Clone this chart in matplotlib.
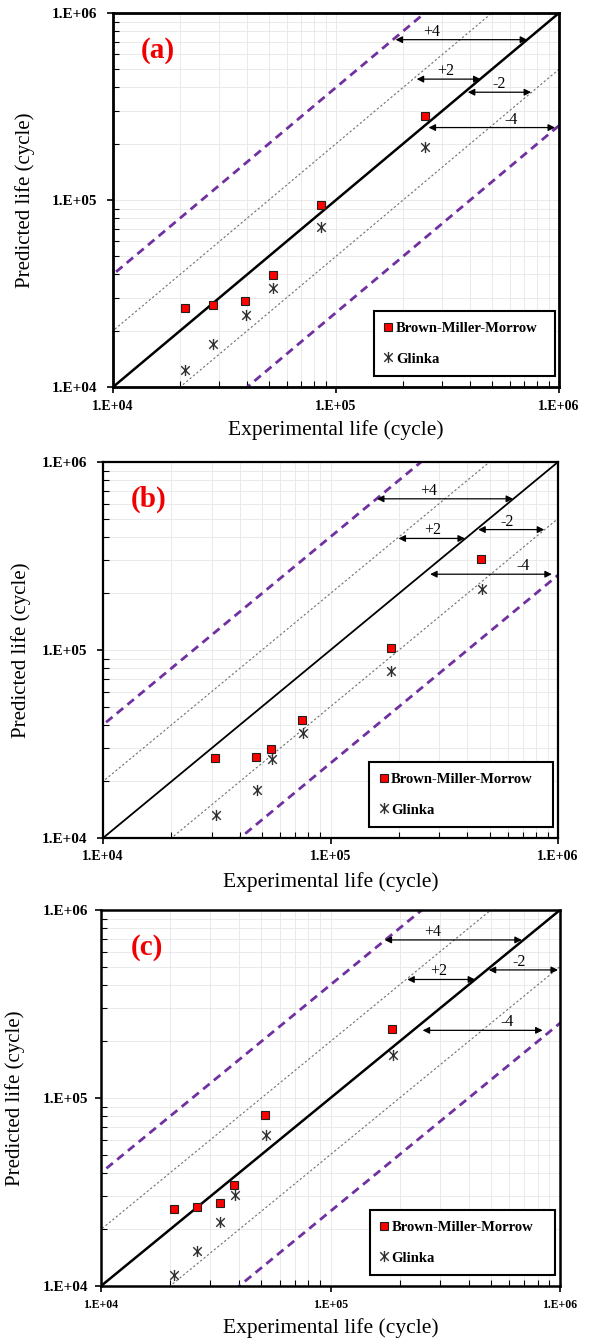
import numpy as np
import matplotlib
matplotlib.use('Agg')
from matplotlib import pyplot as plt
from matplotlib.path import Path
from matplotlib.ticker import FixedLocator, LogLocator, NullFormatter, FuncFormatter

plt.rcParams['font.family'] = ['Liberation Serif', 'DejaVu Serif']

# ---- data (cycles) ----
# panel (a)
a_exp_bmm = [2.10e4, 2.80e4, 3.92e4, 5.20e4, 8.53e4, 2.50e5]
a_pred_bmm = [2.64e4, 2.73e4, 2.90e4, 3.97e4, 9.46e4, 2.81e5]
a_exp_gl = [2.11e4, 2.81e4, 3.95e4, 5.22e4, 8.56e4, 2.51e5]
a_pred_gl = [1.24e4, 1.69e4, 2.44e4, 3.40e4, 7.15e4, 1.91e5]
# panel (b)
b_exp_bmm = [3.10e4, 4.71e4, 5.50e4, 7.51e4, 1.85e5, 4.61e5]
b_pred_bmm = [2.65e4, 2.70e4, 2.98e4, 4.25e4, 1.02e5, 3.06e5]
b_exp_gl = [3.13e4, 4.75e4, 5.52e4, 7.54e4, 1.85e5, 4.63e5]
b_pred_gl = [1.32e4, 1.80e4, 2.63e4, 3.63e4, 7.74e4, 2.10e5]
# panel (c)
c_exp_bmm = [2.09e4, 2.61e4, 3.30e4, 3.79e4, 5.19e4, 1.85e5]
c_pred_bmm = [2.58e4, 2.64e4, 2.77e4, 3.43e4, 8.11e4, 2.34e5]
c_exp_gl = [2.09e4, 2.61e4, 3.31e4, 3.84e4, 5.21e4, 1.87e5]
c_pred_gl = [1.14e4, 1.53e4, 2.19e4, 3.05e4, 6.38e4, 1.70e5]

# scatter-band arrows: (label, y, x_start, x_end, label_x)
a_arrows = [('+4', 7.2e5, 1.85e5, 7.2e5, 2.68e5),
            ('+2', 4.43e5, 2.3e5, 4.45e5, 3.1e5),
            ('-2', 3.77e5, 3.9e5, 7.5e5, 5.4e5),
            ('-4', 2.44e5, 2.6e5, 9.6e5, 6.1e5)]
b_arrows = [('+4', 6.37e5, 1.6e5, 6.35e5, 2.69e5),
            ('+2', 3.92e5, 1.99e5, 3.9e5, 2.8e5),
            ('-2', 4.37e5, 4.46e5, 8.7e5, 6.0e5),
            ('-4', 2.53e5, 2.74e5, 9.4e5, 7.0e5)]
c_arrows = [('+4', 6.93e5, 1.72e5, 6.82e5, 2.8e5),
            ('+2', 4.27e5, 2.16e5, 4.27e5, 2.95e5),
            ('-2', 4.8e5, 4.89e5, 9.8e5, 6.6e5),
            ('-4', 2.29e5, 2.52e5, 8.4e5, 5.9e5)]

panels = [
    ('(a)', a_exp_bmm, a_pred_bmm, a_exp_gl, a_pred_gl, a_arrows),
    ('(b)', b_exp_bmm, b_pred_bmm, b_exp_gl, b_pred_gl, b_arrows),
    ('(c)', c_exp_bmm, c_pred_bmm, c_exp_gl, c_pred_gl, c_arrows),
]

# axes boxes in pixels: left, right, top, bottom
W, H = 597, 1342
boxes = [(113, 559, 13, 387), (103, 558, 462, 838), (101, 560, 910, 1286)]
ylab_x = [-0.175, -0.158, -0.166]
xlab_y = [-0.088, -0.09, -0.085]
xtick_size = [10, 10, 8.5]
ytick_pad = [7, 7, 5]
spine_w = [2.0, 1.6, 1.8]
diag_w = [1.8, 1.3, 1.8]

# Excel style asterisk marker: an x with a vertical bar
star = Path([(-1, -1), (1, 1), (-1, 1), (1, -1), (0, -1.3), (0, 1.3)],
            [Path.MOVETO, Path.LINETO, Path.MOVETO, Path.LINETO, Path.MOVETO, Path.LINETO])

purple = '#7030A0'
fig = plt.figure(figsize=(W / 100, H / 100), dpi=100)

for i, (tag, xb, yb, xg, yg, arrows) in enumerate(panels):
    l, r, t, b = boxes[i]
    ax = fig.add_axes([l / W, 1 - b / H, (r - l) / W, (b - t) / H])
    ax.set_xscale('log')
    ax.set_yscale('log')
    ax.set_xlim(1e4, 1e6)
    ax.set_ylim(1e4, 1e6)

    ref = np.array([1e3, 1e7])
    ax.plot(ref, ref, color='black', lw=diag_w[i], zorder=3)
    ax.plot(ref, 2 * ref, color='#707070', lw=0.8, ls=(0, (2, 2)), zorder=2)
    ax.plot(ref, ref / 2, color='#707070', lw=0.8, ls=(0, (2, 2)), zorder=2)
    ax.plot(ref, 4 * ref, color=purple, lw=2.0, ls=(0, (3, 2)), zorder=2)
    ax.plot(ref, ref / 4, color=purple, lw=2.0, ls=(0, (3, 2)), zorder=2)

    ax.plot(xb, yb, ls='none', marker='s', ms=5.5, mfc='#FF0000', mec='#202020',
            mew=0.8, zorder=5, label='Brown-Miller-Morrow')
    ax.plot(xg, yg, ls='none', marker=star, ms=8, mfc='none', mec='#303030',
            mew=1.0, zorder=5, label='Glinka')

    for lab, y, x0, x1, lx in arrows:
        ax.annotate('', xy=(x1, y), xytext=(x0, y),
                    arrowprops=dict(arrowstyle='<|-|>', color='black', lw=0.9,
                                    mutation_scale=10, shrinkA=0, shrinkB=0), zorder=4)
        ax.text(lx, y, lab, ha='center', va='bottom', fontsize=11.5, zorder=4)

    ax.text(0.1, 0.9, tag, transform=ax.transAxes, ha='center', va='center',
            color='#F00000', fontsize=21, fontweight='bold')

    ax.xaxis.set_major_locator(FixedLocator([1e4, 1e5, 1e6]))
    ax.yaxis.set_major_locator(FixedLocator([1e4, 1e5, 1e6]))
    ax.xaxis.set_minor_locator(LogLocator(base=10, subs=np.arange(2, 10)))
    ax.yaxis.set_minor_locator(LogLocator(base=10, subs=np.arange(2, 10)))
    fmt = FuncFormatter(lambda v, p: '1.E+%02d' % int(round(np.log10(v))))
    ax.xaxis.set_major_formatter(fmt)
    ax.yaxis.set_major_formatter(fmt)
    ax.xaxis.set_minor_formatter(NullFormatter())
    ax.yaxis.set_minor_formatter(NullFormatter())
    ax.tick_params(which='major', direction='out', length=4, width=1.2, pad=5)
    ax.tick_params(which='minor', direction='in', length=4, width=0.8)
    ax.tick_params(axis='x', which='major', labelsize=xtick_size[i])
    ax.tick_params(axis='y', which='major', labelsize=11, pad=ytick_pad[i])
    for lbl in ax.get_xticklabels() + ax.get_yticklabels():
        lbl.set_fontweight('bold')

    ax.grid(True, which='both', color='#e6e6e6', lw=0.6, zorder=0)
    ax.set_axisbelow(True)
    for s in ax.spines.values():
        s.set_linewidth(spine_w[i])

    ax.set_xlabel('Experimental life (cycle)', fontsize=15.5)
    ax.set_ylabel('Predicted life (cycle)', fontsize=15)
    ax.xaxis.set_label_coords(0.5, xlab_y[i])
    ax.yaxis.set_label_coords(ylab_x[i], 0.5)

    leg = ax.legend(loc='lower left', bbox_to_anchor=(0.585, 0.03, 0.405, 0.17),
                    mode='expand', borderaxespad=0, fancybox=False, framealpha=1,
                    edgecolor='black', handlelength=0.6, handletextpad=0.2,
                    labelspacing=1.2, borderpad=0.7,
                    prop={'weight': 'bold', 'size': 10.5})
    leg.get_frame().set_linewidth(1.5)

fig.savefig('out.png', dpi=100)
